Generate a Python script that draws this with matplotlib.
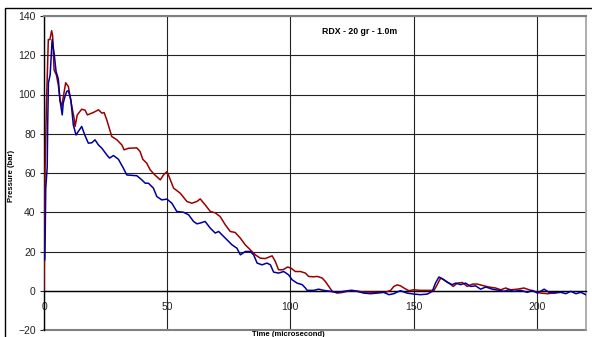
"""Pressure trace, RDX 20 gr at 1.0 m — two gauges."""

import matplotlib.pyplot as plt
from matplotlib.patches import Rectangle

plt.rcParams['font.family'] = ['Liberation Sans', 'DejaVu Sans']

# Gauge 1 (red) — time (us), pressure (bar)
red_t = [0, 0.2, 0.4, 1.0, 1.75, 2.4, 3.1, 3.5, 4.1, 5.0, 5.8, 6.5, 7.2, 8.0, 8.8, 9.9, 11.0,
         12.2, 12.6, 13.5, 15.3, 16.7, 17.6, 20.0, 22.1, 23.5, 24.4, 25.5, 27.5, 29.6, 31.6,
         32.5, 34.3, 37.7, 39.0, 40.1, 41.7, 43.1, 45.0, 47.2, 48.5, 49.9, 50.5, 52.6, 55.3,
         58.0, 60.0, 62.1, 63.4, 65.4, 67.5, 69.5, 71.5, 73.6, 75.6, 77.6, 79.7, 81.7, 83.7,
         85.8, 87.8, 89.8, 91.2, 92.6, 93.9, 95.2, 97.0, 98.9, 100.3, 102.0, 104.1, 106.1,
         107.4, 109.5, 110.9, 112.9, 114.2, 115.6, 117.0, 119.0, 121.0, 123.0, 125.1, 127.1,
         129.8, 132.5, 135.2, 138.6, 140.7, 142.0, 143.4, 144.7, 146.1, 148.1, 150.1, 152.8,
         155.6, 158.3, 159.6, 161.0, 162.3, 164.4, 166.1, 167.8, 169.8, 171.8, 173.9, 175.9,
         178.6, 180.6, 183.3, 185.4, 187.4, 189.4, 192.2, 194.8, 196.9, 198.9, 201.6, 204.4,
         206.4, 207.5]
red_p = [0, 22, 60, 95, 128, 128, 132.5, 130, 112.5, 110, 105, 97, 94, 100, 106, 104, 96,
         88, 83.7, 89.6, 92.5, 92, 89.6, 90.8, 92.2, 90.5, 90.8, 87, 78.6, 76.9, 74.3,
         71.8, 72.6, 72.8, 70.9, 67, 65, 61.6, 59, 56.5, 59, 60.7, 59, 52.3, 49.7,
         45.5, 44.6, 45.5, 46.8, 43.8, 40.4, 39.7, 37.8, 33.6, 30.2, 29.7, 26.8, 23.4, 20.9,
         18.3, 16.6, 16.4, 17.1, 17.8, 14.9, 10.7, 10.7, 12.1, 11.5, 9.8, 9.8, 9.0,
         7.3, 7.1, 7.3, 6.5, 4.7, 2.2, -0.3, -1.2, -0.9, -0.3, 0.2, -0.2,
         -0.7, -0.7, -0.8, -0.8, 0.2, 2.2, 3.0, 2.5, 1.4, 0.0, 0.5, 0.2,
         0.2, 0.2, 3.1, 6.5, 5.6, 3.9, 2.2, 3.9, 4.2, 2.2, 3.4, 3.4,
         2.5, 1.9, 1.4, 0.5, 1.4, 0.5, 0.8, 1.4, 0.5, -0.3, -1.2, -1.5,
         -1.2, -1.0]

# Gauge 2 (blue)
blue_t = [0.3, 0.5, 0.7, 1.3, 1.5, 1.8, 2.5, 3.3, 4.1, 4.9, 5.8, 6.5, 7.4, 7.8, 8.5, 9.2, 9.9,
          10.9, 11.9, 13.0, 13.9, 15.3, 16.7, 18.0, 19.4, 20.7, 22.1, 23.5, 25.5, 26.6, 28.2,
          30.2, 32.2, 33.6, 37.7, 39.7, 41.1, 42.4, 44.4, 45.8, 47.8, 49.9, 51.9, 53.9, 56.6,
          58.7, 60.7, 62.1, 63.4, 65.4, 67.5, 69.5, 70.9, 73.6, 76.3, 78.3, 79.7, 81.7, 83.7,
          85.1, 86.5, 88.5, 90.5, 91.9, 93.2, 95.2, 97.3, 99.3, 100.7, 102.7, 104.8, 106.1,
          106.8, 109.5, 111.5, 113.5, 116.3, 119.0, 121.7, 124.4, 127.1, 129.8, 132.5, 135.2,
          137.9, 140.0, 142.0, 144.0, 144.7, 147.4, 150.1, 152.8, 155.6, 157.6, 158.9, 160.3,
          161.7, 163.7, 165.7, 167.1, 169.1, 171.1, 173.2, 175.2, 177.2, 179.3, 182.0, 184.7,
          186.7, 188.7, 190.8, 193.5, 196.2, 198.2, 200.3, 203.0, 205.0, 207.0, 209.8, 211.8,
          213.8, 215.9, 217.9, 219.9]
blue_p = [15.8, 30, 52, 63, 85, 106, 110, 128, 121, 111.7, 108, 97, 89.6, 95.6, 98.9, 101.5, 102,
          97.3, 84.5, 79.4, 81.1, 83.7, 78.9, 75.2, 75.4, 76.9, 74.3, 72.6, 69.2, 67.6, 68.9,
          67, 62.5, 59, 58.6, 56.5, 54.8, 54.8, 52.3, 48, 46.3, 46.7, 44.6, 40.4, 40,
          38.7, 35.3, 34.1, 34.5, 35.3, 31.9, 29.4, 30.2, 26.8, 23.4, 21.7, 18.3, 20, 20,
          18.3, 14.1, 13.2, 14.1, 13.2, 9.5, 9.0, 9.8, 8.1, 5.6, 3.9, 3.1, 1.4,
          0.2, 0.2, 0.8, 0.2, -0.3, -0.8, -0.3, 0.2, -0.3, -1.2, -1.5, -1.2,
          -0.8, -2.0, -1.5, -0.3, 0.0, -1.2, -1.7, -2.0, -1.7, -0.3, 3.9, 7.0,
          6.1, 4.3, 3.1, 3.9, 3.1, 3.9, 2.2, 2.5, 0.8, 1.9, 0.8, 0.2,
          -0.3, 0.5, -0.3, 0.2, -0.8, 0.2, -1.2, 0.8, -0.8, -1.2, -0.8, -1.5,
          -0.3, -1.5, -0.8, -2.0]

x_ticks = [0, 50, 100, 150, 200]
y_ticks = [-20, 0, 20, 40, 60, 80, 100, 120, 140]

fig = plt.figure(figsize=(5.92, 3.37), dpi=100)
ax = fig.add_axes([44 / 592, 1 - 330 / 337, 542 / 592, 314 / 337])

# outer chart-area frame (Excel style)
fig.patches.append(Rectangle((4.5 / 592, -0.1), 1.2, 1 - 8.5 / 337 + 0.1, transform=fig.transFigure,
                             fill=False, edgecolor='black', linewidth=1.0))

ax.plot(red_t, red_p, color='#990000', linewidth=1.1, zorder=3)
ax.plot(blue_t, blue_p, color='#000099', linewidth=1.1, zorder=3)

ax.set_xlim(0, 220)
ax.set_ylim(-20, 140)
ax.set_xticks(x_ticks)
ax.set_yticks(y_ticks)
ax.grid(True, color='#222222', linewidth=0.8)
ax.set_axisbelow(True)

ax.spines['left'].set_color('black')
ax.spines['left'].set_linewidth(1.0)
ax.spines['bottom'].set_position(('data', 0))
ax.spines['bottom'].set_color('black')
ax.spines['bottom'].set_linewidth(1.0)
ax.spines['top'].set_color('#808080')
ax.spines['top'].set_linewidth(1.5)
ax.spines['right'].set_color('#a0a0a0')
ax.spines['right'].set_linewidth(1.2)
# grey frame line at -20
ax.axhline(-20, color='#808080', linewidth=1.5, clip_on=False)

ax.tick_params(axis='x', length=0, pad=8, labelsize=7.5, colors='#222222')
ax.tick_params(axis='y', length=3, width=0.8, pad=3, labelsize=7.5, colors='#222222')

ax.text(113, 132, "RDX - 20 gr - 1.0m", fontsize=6.3, fontweight='bold', va='center')
fig.text(11.5 / 592, 1 - 176 / 337, "Pressure (bar)", rotation=90, fontsize=5.5,
         fontweight='bold', ha='center', va='center')
fig.text(288 / 592, 1 - 331.5 / 337, "Time (microsecond)", fontsize=5.5,
         fontweight='bold', ha='center', va='top')

fig.savefig("out.png", dpi=100)
plt.close(fig)
